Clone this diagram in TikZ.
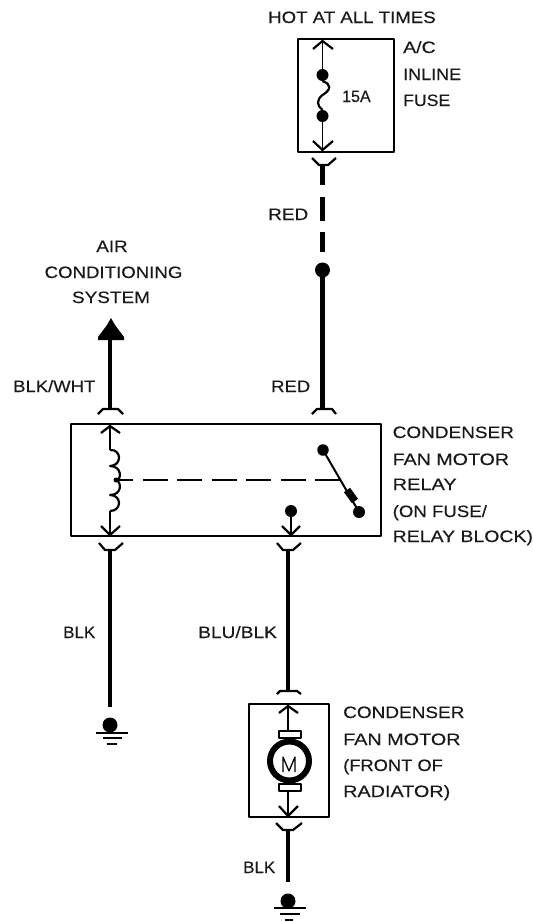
\documentclass[tikz,border=0pt]{standalone}
\usepackage{graphicx}
\usepackage{fontspec}
\setmainfont[FakeBold=0.25]{Liberation Sans}
\newcommand\sx[2]{\scalebox{#1}[1]{#2}}
\begin{document}
\begin{tikzpicture}[x=1pt,y=-1pt,line join=round,
  lab/.style={anchor=base west,inner sep=0pt,font=\fontsize{16.5}{20}\selectfont,text=black!90},
  mlab/.style={anchor=base,inner sep=0pt,font=\fontsize{16.5}{20}\selectfont,text=black!90},
  thin box/.style={draw,line width=2pt,inner sep=0pt},
  wire/.style={line width=4.8pt},
  inwire/.style={line width=1.9pt},
  chev/.style={line width=2.2pt},
  dotn/.style={circle,fill=black,inner sep=0pt,minimum size=#1}]
\useasboundingbox (0,0) rectangle (533,922);
% boxes
\node[thin box,minimum width=96.5pt,minimum height=113pt] (fusebox) at (345.75,95.5) {};
\node[thin box,minimum width=310pt,minimum height=112pt] (relaybox) at (226,480) {};
\node[thin box,minimum width=80pt,minimum height=113pt] (motorbox) at (289,760.5) {};
% fuse
\coordinate (ft) at (322.5,41);
\coordinate (fb) at (322.5,150);
\node[dotn=12pt] (f1) at (322.5,75) {};
\node[dotn=12pt] (f2) at (322.5,116) {};
\draw[inwire] (ft) -- (f1);
\draw[inwire] (f2) -- (fb);
\draw[line width=2.2pt] (f1.south) .. controls (332,84) and (331,90) .. (322.5,95) .. controls (316,100) and (317,106) .. (f2.north);
\draw[chev] (313,49) -- (ft) -- (333,49);
\draw[chev] (313,141) -- (fb) -- (333,141);
\coordinate (fy) at (322.5,165);
\coordinate (fe) at (322.5,185);
\draw[chev] (312,158) -- (319,165) -- (328,165) -- (336,158);
\draw[wire] (fy) -- (fe);
\coordinate (d1) at (322.5,197);
\coordinate (d2) at (322.5,221);
\coordinate (d3) at (322.5,232);
\coordinate (d4) at (322.5,252);
\draw[wire] (d1) -- (d2);
\draw[wire] (d3) -- (d4);
\node[dotn=15pt] (redj) at (322.5,270) {};
\coordinate (rc) at (322.5,409);
\draw[wire] (redj.center) -- (rc);
\draw[chev] (312,414) -- (317,409) -- (332,409) -- (336,414);
% left wire up
\coordinate (lc) at (110,409);
\coordinate (lt) at (110,330);
\draw[wire] (lc) -- (lt);
\fill (111,318) -- (115,325) -- (124,337) -- (124,340) -- (98,340) -- (98,337) -- (107,325) -- cycle;
\draw[chev] (98,414) -- (103,409) -- (118,409) -- (123,414);
% relay inner
\coordinate (ct) at (110,426);
\coordinate (cs) at (110,450);
\coordinate (ce) at (110,511);
\coordinate (cb) at (110,535);
\draw[inwire] (ct) -- (cs);
\draw[inwire] (ce) -- (cb);
\draw[chev] (101,433) -- (ct) -- (120,433);
\draw[chev] (101,526) -- (cb) -- (120,526);
\draw[line width=2.2pt] (cs) .. controls (122,449) and (122,466) .. (110,466)
   .. controls (122,466) and (122,480) .. (116,480) .. controls (122,482) and (122,495) .. (110,495)
   .. controls (122,495) and (122,511) .. (ce);
\node[dotn=5pt] (cm) at (116,480) {};
\node[dotn=11.5pt] (s1) at (323,450) {};
\node[dotn=12pt] (s2) at (359,512) {};
\draw[line width=2pt] (s1.center) -- (s2.center);
\draw[line width=7.5pt] (347,490) -- (355,501);
\draw[line width=1.6pt,dash pattern=on 25pt off 9.5pt,dash phase=8pt] (cm.center) -- (340,480);
\node[dotn=12pt] (md) at (291,511) {};
\coordinate (mb) at (291,535);
\draw[inwire] (md.center) -- (mb);
\draw[chev] (282,526) -- (mb) -- (300,526);
% below relay
\coordinate (ly) at (110,550);
\coordinate (lg) at (110,707);
\draw[chev] (99,543) -- (105,550) -- (115,550) -- (123,543);
\draw[wire] (ly) -- (lg);
\coordinate (my) at (288,550);
\coordinate (mc) at (288,691);
\draw[chev] (277,543) -- (283,550) -- (293,550) -- (301,543);
\draw[wire] (my) -- (mc);
\draw[chev] (277,694) -- (280,691) -- (297,691) -- (301,694);
% left ground
\node[dotn=15pt] (g1) at (110,725) {};
\draw[line width=2.2pt] (96,733) -- (128,733);
\fill[white] (100,734.3) rectangle (125,735.5);
\draw[line width=2pt] (103,737.5) -- (122,737.5);
\draw[line width=2.2pt] (107,744) -- (117,744);
% motor
\coordinate (mt) at (288,706);
\coordinate (mbot) at (288,816);
\draw[chev] (279,713) -- (mt) -- (298,713);
\draw[chev] (279,806) -- (mbot) -- (298,806);
\node[draw,fill=white,line width=2pt,inner sep=0pt,minimum width=22pt,minimum height=7pt] (b1) at (290,734) {};
\node[draw,fill=white,line width=2pt,inner sep=0pt,minimum width=22pt,minimum height=7pt] (b2) at (290,787) {};
\draw[inwire] (mt) -- (b1.north -| mt);
\draw[inwire] (b2.south -| mbot) -- (mbot);
\node[circle,draw,fill=white,line width=6pt,inner sep=0pt,minimum size=39pt] (motor) at (289.5,761) {};
\draw[line width=1.3pt] (283,772) -- (283,757) -- (289,771) -- (295,757) -- (295,772);
% below motor
\coordinate (oy) at (288,830);
\coordinate (og) at (288,882);
\draw[chev] (276,823) -- (283,830) -- (293,830) -- (302,823);
\draw[wire] (oy) -- (og);
\node[dotn=15pt] (g2) at (288,901) {};
\draw[line width=2.2pt] (274,908) -- (306,908);
\draw[line width=2pt] (280,914) -- (300,914);
\draw[line width=2pt] (285,919.5) -- (293,919.5);
% labels
\node[lab] (t1) at (268,23) {\sx{1.13}{HOT AT ALL TIMES}};
\node[lab] (t2) at (403,53) {\sx{1.18}{A/C}};
\node[lab] (t3) at (403,80) {\sx{1.09}{INLINE}};
\node[lab] (t4) at (403,106) {\sx{1.07}{FUSE}};
\node[lab] (t5) at (342,102) {\sx{0.97}{15A}};
\node[lab] (t6) at (268,220) {\sx{1.15}{RED}};
\node[mlab] (t7) at (112,252) {\sx{1.14}{AIR}};
\node[mlab] (t8) at (113.5,278) {\sx{1.13}{CONDITIONING}};
\node[mlab] (t9) at (111,303) {\sx{1.15}{SYSTEM}};
\node[lab] (t10) at (13,392) {\sx{1.12}{BLK/WHT}};
\node[lab] (t11) at (271,392) {\sx{1.12}{RED}};
\node[lab] (t12) at (392.5,438) {\sx{1.15}{CONDENSER}};
\node[lab] (t13) at (392.5,465) {\sx{1.19}{FAN MOTOR}};
\node[lab] (t14) at (392.5,490) {\sx{1.21}{RELAY}};
\node[lab] (t15) at (392.5,517) {\sx{1.13}{(ON FUSE/}};
\node[lab] (t16) at (392.5,542) {\sx{1.18}{RELAY BLOCK)}};
\node[lab] (t17) at (63,638) {\sx{1.03}{BLK}};
\node[lab] (t18) at (198,638) {\sx{1.16}{BLU/BLK}};
\node[lab] (t19) at (343,718) {\sx{1.15}{CONDENSER}};
\node[lab] (t20) at (343,745) {\sx{1.2}{FAN MOTOR}};
\node[lab] (t21) at (343,771) {\sx{1.11}{(FRONT OF}};
\node[lab] (t22) at (343,797) {\sx{1.2}{RADIATOR)}};
\node[lab] (t23) at (243,873) {\sx{1.03}{BLK}};
\end{tikzpicture}
\end{document}
